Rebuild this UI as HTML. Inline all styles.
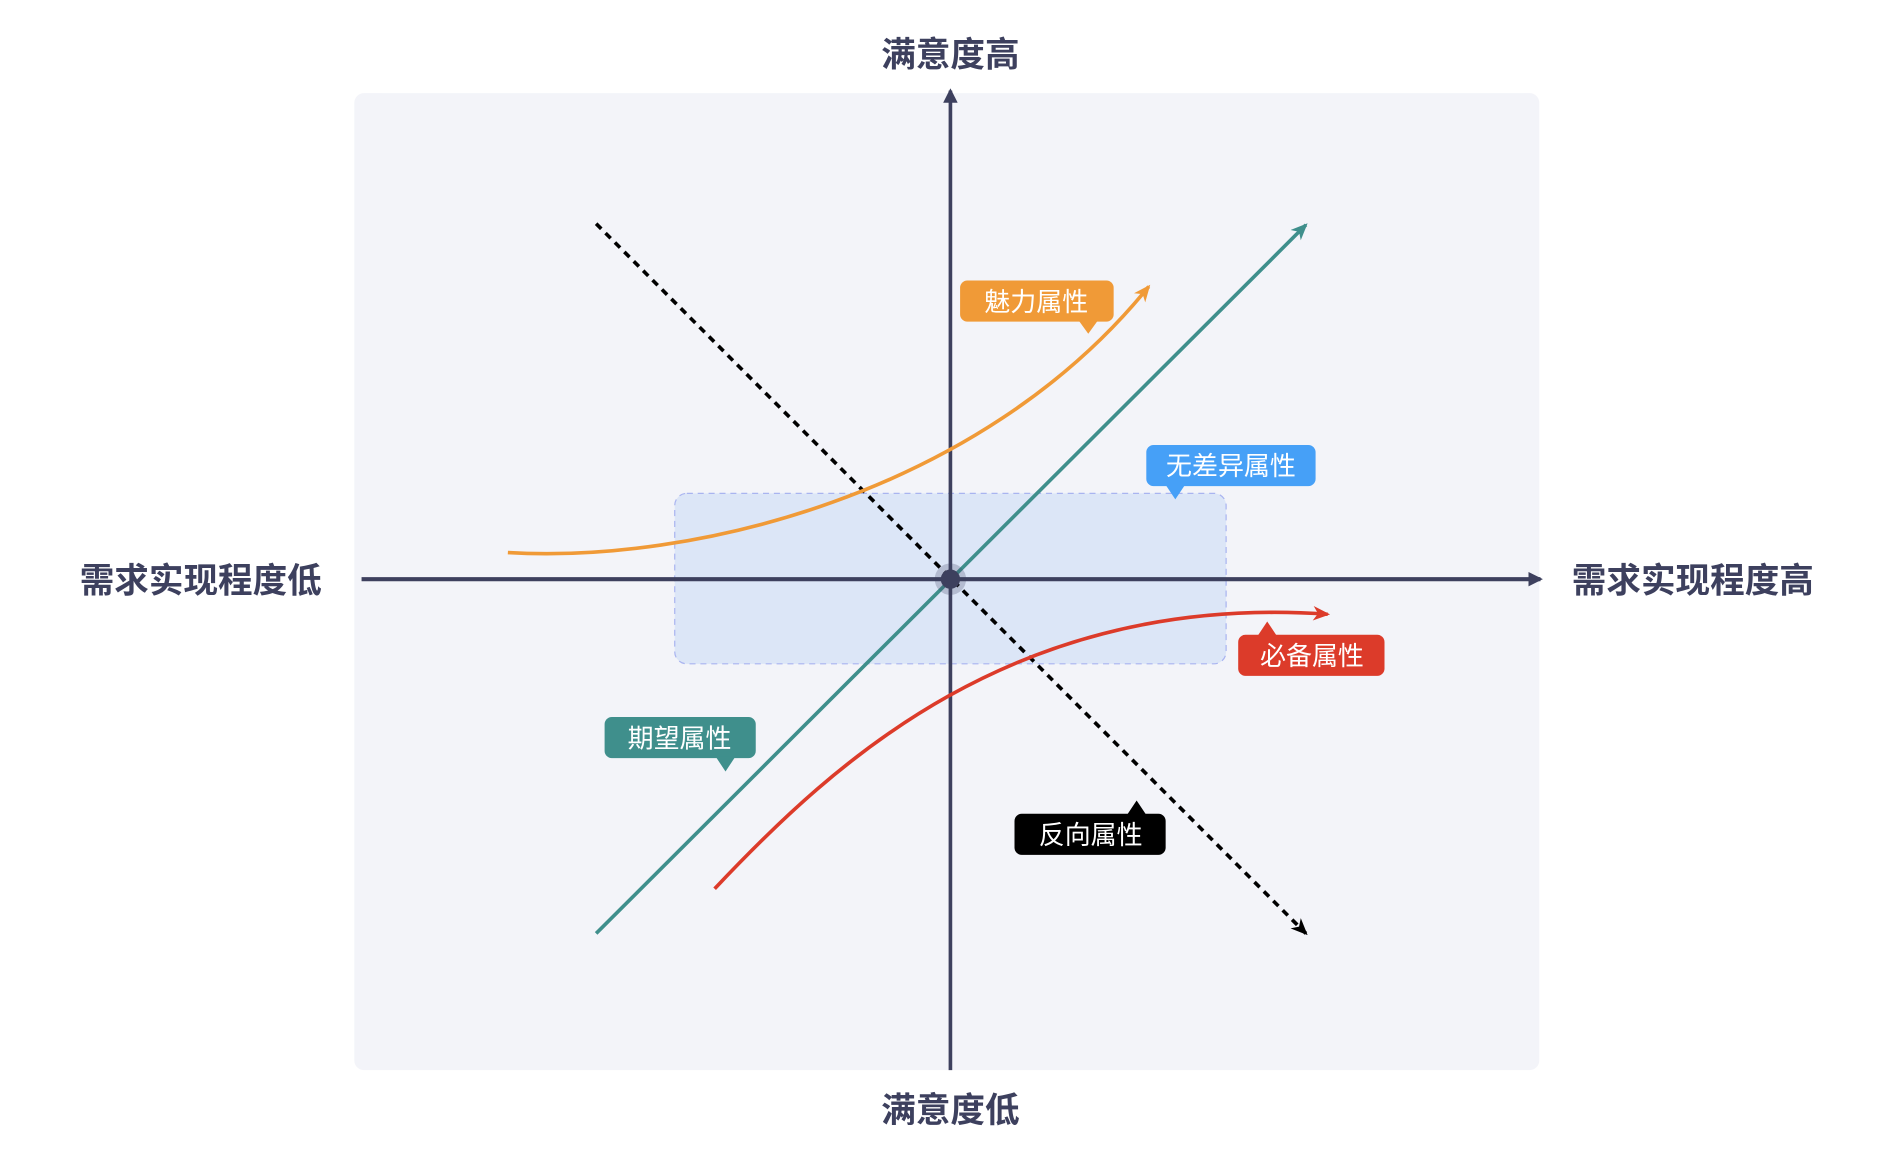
<!DOCTYPE html>
<html><head><meta charset="utf-8"><style>
html,body{margin:0;padding:0;background:#fff;}
svg{display:block;}
text{font-family:"Liberation Sans","Noto Sans CJK SC",sans-serif;}
</style></head><body>
<svg width="1896" height="1162" viewBox="0 0 1568 961" xmlns="http://www.w3.org/2000/svg">
<defs>
<marker id="aAx" markerWidth="12" markerHeight="12" refX="10" refY="6" orient="auto" markerUnits="userSpaceOnUse"><path d="M0,0 L12,6 L0,12 Z" fill="#3d405e"/></marker>
<marker id="aT" markerWidth="14" markerHeight="12" refX="12" refY="6" orient="auto" markerUnits="userSpaceOnUse"><path d="M0,0 L14,6 L0,12 L4,6 Z" fill="#3f8f8c"/></marker>
<marker id="aO" markerWidth="14" markerHeight="12" refX="12" refY="6" orient="auto" markerUnits="userSpaceOnUse"><path d="M0,0 L14,6 L0,12 L4,6 Z" fill="#f09a37"/></marker>
<marker id="aR" markerWidth="14" markerHeight="12" refX="12" refY="6" orient="auto" markerUnits="userSpaceOnUse"><path d="M0,0 L14,6 L0,12 L4,6 Z" fill="#dc3b2a"/></marker>
<marker id="aK" markerWidth="14" markerHeight="12" refX="12" refY="6" orient="auto" markerUnits="userSpaceOnUse"><path d="M0,0 L14,6 L0,12 L4,6 Z" fill="#000"/></marker>
</defs>
<rect x="293" y="77" width="980" height="808" rx="8" fill="#f3f4f9"/>
<rect x="558" y="408" width="456" height="141" rx="10" fill="#dce6f7" stroke="#a9b4f0" stroke-dasharray="5,4" stroke-width="1"/>
<line x1="299" y1="479" x2="1274" y2="479" stroke="#3d405e" stroke-width="3.5" marker-end="url(#aAx)"/>
<line x1="786" y1="885" x2="786" y2="75" stroke="#3d405e" stroke-width="3" marker-end="url(#aAx)"/>
<line x1="493" y1="185" x2="1080" y2="772" stroke="#000" stroke-width="3" stroke-dasharray="6,5" marker-end="url(#aK)"/>
<line x1="493" y1="772" x2="1080" y2="186" stroke="#3f8f8c" stroke-width="3" marker-end="url(#aT)"/>
<path d="M420,457 C570,466 810,410 950,237" fill="none" stroke="#f09a37" stroke-width="3" marker-end="url(#aO)"/>
<path d="M591,735 C690,630 840,490 1098,508" fill="none" stroke="#dc3b2a" stroke-width="3" marker-end="url(#aR)"/>
<circle cx="786" cy="479" r="13" fill="#3d405e" opacity="0.25"/>
<circle cx="786" cy="479" r="8" fill="#3d405e"/>
<g font-size="28.6" font-weight="bold" fill="#3d405e" text-anchor="middle">
<text x="786" y="55">满意度高</text>
<text x="786" y="928">满意度低</text>
<text x="166" y="490">需求实现程度低</text>
<text x="1400" y="490">需求实现程度高</text>
</g>
<g font-size="21.5" fill="#fff" text-anchor="middle">
<rect x="794" y="232" width="127" height="34" rx="6" fill="#f09a37"/><path d="M892,265 L908,265 L900,276 Z" fill="#f09a37"/>
<text x="857" y="257">魅力属性</text>
<rect x="948" y="368" width="140" height="34" rx="6" fill="#46a0f7"/><path d="M964,401 L980,401 L972,413 Z" fill="#46a0f7"/>
<text x="1018" y="393">无差异属性</text>
<rect x="1024" y="525" width="121" height="34" rx="6" fill="#dc3b2a"/><path d="M1040,526 L1056,526 L1048,514 Z" fill="#dc3b2a"/>
<text x="1085" y="550">必备属性</text>
<rect x="500" y="593" width="125" height="34" rx="6" fill="#3f8f8c"/><path d="M592,626 L608,626 L600,638 Z" fill="#3f8f8c"/>
<text x="562" y="618">期望属性</text>
<rect x="839" y="673" width="125" height="34" rx="6" fill="#000"/><path d="M932,674 L948,674 L940,662 Z" fill="#000"/>
<text x="902" y="698">反向属性</text>
</g>
</svg>
</body></html>
